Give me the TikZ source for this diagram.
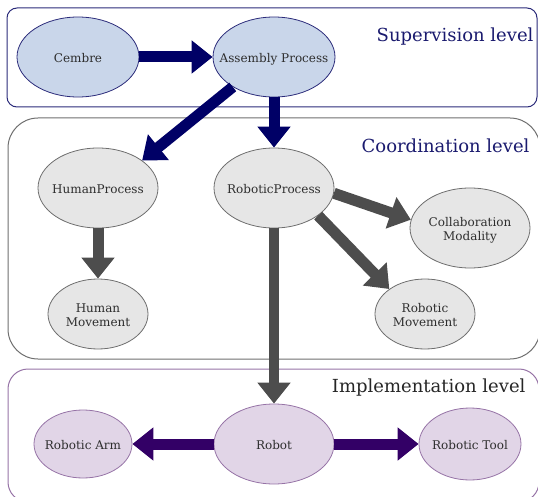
\documentclass[tikz,border=0pt]{standalone}
\usepackage{fontspec}
\setmainfont{DejaVu Serif}
\usetikzlibrary{shapes.geometric,arrows.meta}

\definecolor{supFill}{HTML}{C9D6EA}
\definecolor{supLine}{HTML}{2B2B7A}
\definecolor{supArrow}{HTML}{000066}
\definecolor{supText}{HTML}{1A1A6E}
\definecolor{coFill}{HTML}{E6E6E6}
\definecolor{coLine}{HTML}{6E6E6E}
\definecolor{coArrow}{HTML}{4D4D4D}
\definecolor{imFill}{HTML}{E1D5E7}
\definecolor{imLine}{HTML}{9673A6}
\definecolor{imArrow}{HTML}{330066}
\definecolor{nodeText}{HTML}{2E2E2E}

% node text that does not widen the ellipse around it, set a little low
\newcommand{\proctext}[1]{\raisebox{-2.5pt}[\height][\depth]{\makebox[0pt]{\begin{tabular}{@{}c@{}}#1\end{tabular}}}}

\tikzset{
  proc/.style={ellipse, draw, line width=0.8pt, inner sep=0pt,
    text=nodeText, font=\fontsize{12}{14}\selectfont},
  suplevel/.style={proc, fill=supFill, draw=supLine},
  colevel/.style={proc, fill=coFill, draw=coLine},
  imlevel/.style={proc, fill=imFill, draw=imLine},
  fat/.style={line width=11pt, -{Triangle[width=32pt, length=21pt]}},
  suparrow/.style={fat, draw=supArrow, fill=supArrow},
  coarrow/.style={fat, draw=coArrow, fill=coArrow},
  imarrow/.style={fat, draw=imArrow, fill=imArrow},
  panel/.style={line width=1pt},
  levellabel/.style={anchor=east, font=\fontsize{18}{21}\selectfont},
}

\begin{document}
\begin{tikzpicture}[x=1pt, y=-1pt]
  \useasboundingbox (0,0) rectangle (538,497);

  % level panels
  \draw[panel, draw=supLine, rounded corners=10pt] (7,8) rectangle (537,107);
  \draw[panel, draw=coLine, rounded corners=30pt] (8,118) rectangle (540,359);
  \draw[panel, draw=imLine, rounded corners=20pt] (8,369) rectangle (539,502);

  \node[levellabel, text=supText] (lsup) at (537,37) {Supervision level};
  \node[levellabel, text=supText] (lco) at (533,146) {Coordination level};
  \node[levellabel, text=black!85] (lim) at (529,388) {Implementation level};

  % supervision level
  \node[suplevel, minimum width=122pt, minimum height=80pt] (cem) at (78,57) {\proctext{Cembre}};
  \node[suplevel, minimum width=122pt, minimum height=80pt] (asm) at (274,57) {\proctext{Assembly Process}};

  % coordination level
  \node[colevel, minimum width=120pt, minimum height=80pt] (hp) at (98,188) {\proctext{HumanProcess}};
  \node[colevel, minimum width=120pt, minimum height=80pt] (rp) at (274,188) {\proctext{RoboticProcess}};
  \node[colevel, minimum width=120pt, minimum height=80pt] (cm) at (470,228) {\proctext{Collaboration\\Modality}};
  \node[colevel, minimum width=100pt, minimum height=70pt] (hm) at (98,314) {\proctext{Human\\Movement}};
  \node[colevel, minimum width=100pt, minimum height=70pt] (rm) at (425,314) {\proctext{Robotic\\Movement}};

  % implementation level
  \node[imlevel, minimum width=120pt, minimum height=80pt] (rob) at (274,444) {\proctext{Robot}};
  \node[imlevel, minimum width=98pt, minimum height=68pt] (arm) at (83,444) {\proctext{Robotic Arm}};
  \node[imlevel, minimum width=102pt, minimum height=72pt] (tool) at (470,444) {\proctext{Robotic Tool}};

  % connectors
  \draw[suparrow] (cem.east) -- (asm.west);
  \draw[suparrow] (asm.216) -- (hp.32);
  \draw[suparrow] (asm.south) -- (rp.north);

  \draw[coarrow] (hp.south) -- (hm.north);
  \draw[coarrow] (rp.-5) -- (cm.172);
  \draw[coarrow] (rp.-32) -- (rm.145);
  \draw[coarrow, line width=10pt] (rp.south) -- (rob.north);

  \draw[imarrow] (rob.west) -- (arm.east);
  \draw[imarrow] (rob.east) -- (tool.west);
\end{tikzpicture}
\end{document}
